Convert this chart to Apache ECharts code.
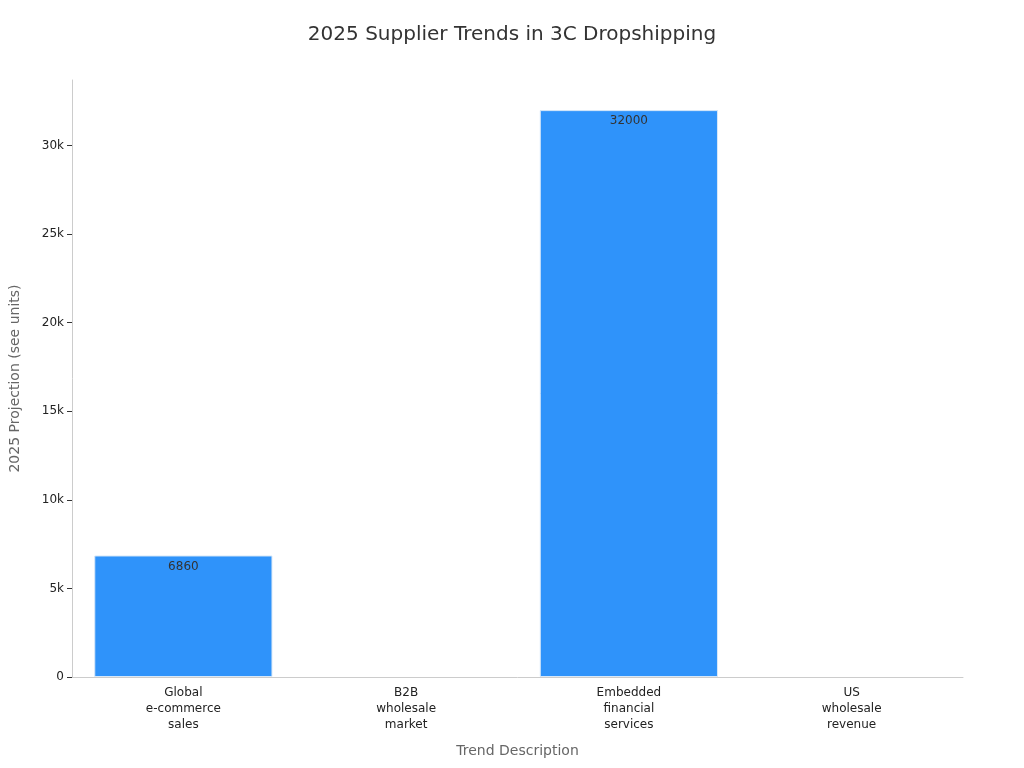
<!DOCTYPE html>
<html><head><meta charset="utf-8">
<script src="https://cdn.jsdelivr.net/npm/echarts@6/dist/echarts.min.js"></script>
<style>html,body{margin:0;padding:0}#c{width:1024px;height:768px}</style>
</head><body><div id="c"></div>
<script>
const categories = ["Global\ne-commerce\nsales", "B2B\nwholesale\nmarket", "Embedded\nfinancial\nservices", "US\nwholesale\nrevenue"];
const values = [6860, null, 32000, null];
const chart = echarts.init(document.getElementById('c'));
chart.setOption({
  textStyle: {fontFamily: 'DejaVu Sans'},
  title: {text: '2025 Supplier Trends in 3C Dropshipping', left: 'center', top: 20,
    textStyle: {fontSize: 20, fontWeight: 'normal', color: '#333'}},
  grid: {left: 67, right: 61, top: 80, bottom: 91},
  xAxis: {type: 'category', data: categories, name: 'Trend Description', nameLocation: 'middle', nameGap: 67,
    nameTextStyle: {fontSize: 14, color: '#666'},
    axisLine: {lineStyle: {color: '#ccc'}}, axisTick: {show: false},
    axisLabel: {color: '#222', fontSize: 12, interval: 0, lineHeight: 16}},
  yAxis: {type: 'value', min: 0, max: 33700, interval: 5000, name: '2025 Projection (see units)', nameLocation: 'middle', nameGap: 50,
    nameTextStyle: {fontSize: 14, color: '#666'},
    axisLine: {show: true, lineStyle: {color: '#ccc'}}, axisTick: {show: true, lineStyle: {color: '#333'}},
    splitLine: {show: false},
    axisLabel: {color: '#222', fontSize: 12, showMaxLabel: false, formatter: v => v === 0 ? '0' : (v/1000) + 'k'}},
  series: [{type: 'bar', data: values, barWidth: '80%',
    itemStyle: {color: '#2f93fa', borderColor: '#d8e8f8', borderWidth: 1},
    label: {show: true, position: 'insideTop', color: '#333', fontSize: 12}}]
});
</script></body></html>
